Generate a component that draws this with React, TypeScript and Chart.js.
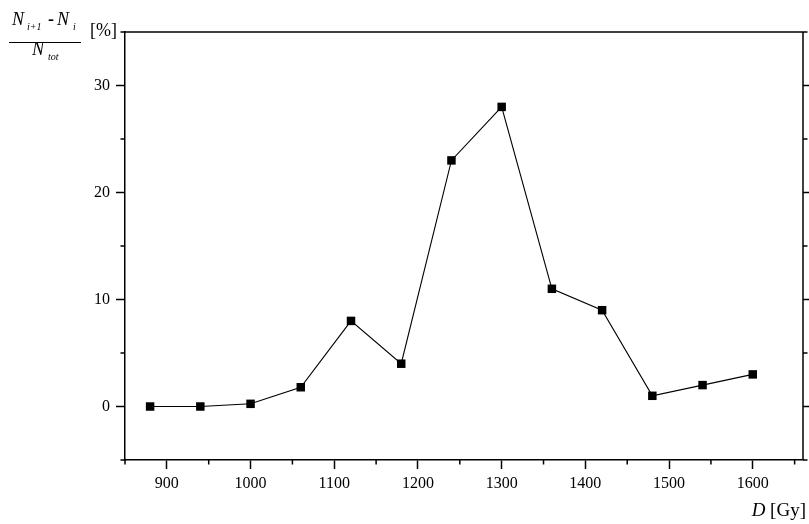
import React, { useEffect, useRef } from 'react';
import { Chart, registerables } from 'chart.js';

Chart.register(...registerables);

const doses = [880, 940, 1000, 1060, 1120, 1180, 1240, 1300, 1360, 1420, 1480, 1540, 1600];
const fractions = [0, 0, 0.25, 1.8, 8.0, 4.0, 23.0, 28.0, 11.0, 9.0, 1.0, 2.0, 3.0];
const xMajorTicks = [900, 1000, 1100, 1200, 1300, 1400, 1500, 1600];
const xMinorTicks = [850, 950, 1050, 1150, 1250, 1350, 1450, 1550, 1650];
const yMajorTicks = [0, 10, 20, 30];
const yMinorTicks = [-5, 5, 15, 25, 35];

const FONT = "'Liberation Serif', 'Times New Roman', serif";

const framePlugin = {
  id: 'frameAndTitles',
  afterDraw(chart: any) {
    const ctx = chart.ctx as CanvasRenderingContext2D;
    const { left, right, top, bottom } = chart.chartArea;
    const xs = chart.scales.x;
    const ys = chart.scales.y;
    ctx.save();
    ctx.strokeStyle = '#000';
    ctx.lineWidth = 1.5;
    // top and right frame
    ctx.beginPath();
    ctx.moveTo(left, top);
    ctx.lineTo(right, top);
    ctx.moveTo(right, top);
    ctx.lineTo(right, bottom);
    ctx.stroke();
    // minor ticks
    ctx.beginPath();
    xMinorTicks.forEach((v) => {
      const px = xs.getPixelForValue(v);
      ctx.moveTo(px, bottom);
      ctx.lineTo(px, bottom + 4.5);
    });
    yMinorTicks.forEach((v) => {
      const py = ys.getPixelForValue(v);
      ctx.moveTo(left - 4.5, py);
      ctx.lineTo(left, py);
      ctx.moveTo(right, py);
      ctx.lineTo(right + 4.5, py);
    });
    yMajorTicks.forEach((v) => {
      const py = ys.getPixelForValue(v);
      ctx.moveTo(right, py);
      ctx.lineTo(right + 9, py);
    });
    ctx.stroke();

    // y-axis title: (N_{i+1} - N_i) / N_tot [%]
    ctx.fillStyle = '#000';
    ctx.textBaseline = 'alphabetic';
    ctx.textAlign = 'left';
    const big = `italic 18px ${FONT}`;
    const small = `italic 10px ${FONT}`;
    ctx.font = big;
    ctx.fillText('N', 12, 25);
    ctx.font = small;
    ctx.fillText('i+1', 27, 30);
    ctx.font = `bold 18px ${FONT}`;
    ctx.fillText('-', 48, 25);
    ctx.font = big;
    ctx.fillText('N', 57, 25);
    ctx.font = small;
    ctx.fillText('i', 73, 30);
    ctx.lineWidth = 1;
    ctx.beginPath();
    ctx.moveTo(9, 42.5);
    ctx.lineTo(81, 42.5);
    ctx.stroke();
    ctx.font = big;
    ctx.fillText('N', 32, 55);
    ctx.font = small;
    ctx.fillText('tot', 48, 60);
    ctx.font = `18px ${FONT}`;
    ctx.fillText('[%]', 90, 36);

    // x-axis title: D [Gy]
    ctx.textAlign = 'right';
    ctx.font = `19px ${FONT}`;
    const rest = ' [Gy]';
    const restW = ctx.measureText(rest).width;
    ctx.fillText(rest, 806, 516);
    ctx.font = `italic 19px ${FONT}`;
    ctx.fillText('D', 806 - restW, 516);
    ctx.restore();
  },
};

export default function App() {
  const canvasRef = useRef<HTMLCanvasElement | null>(null);

  useEffect(() => {
    if (!canvasRef.current) return;
    const tickFont = { family: FONT, size: 16 };
    const chart = new Chart(canvasRef.current, {
      type: 'line',
      data: {
        datasets: [
          {
            data: doses.map((d, i) => ({ x: d, y: fractions[i] })),
            borderColor: '#000',
            borderWidth: 1.1,
            pointStyle: 'rect',
            pointRadius: 6,
            pointBackgroundColor: '#000',
            pointBorderColor: '#000',
            pointBorderWidth: 0,
            tension: 0,
            fill: false,
          },
        ],
      },
      options: {
        animation: false,
        responsive: true,
        maintainAspectRatio: false,
        layout: { padding: { top: 32, right: 3, left: 0, bottom: 0 } },
        plugins: {
          legend: { display: false },
          tooltip: { enabled: false },
          title: { display: false },
        },
        scales: {
          x: {
            type: 'linear',
            min: 850,
            max: 1660,
            afterBuildTicks: (s: any) => {
              s.ticks = xMajorTicks.map((v) => ({ value: v }));
            },
            afterFit: (s: any) => {
              s.height = 64;
            },
            ticks: {
              font: tickFont,
              color: '#000',
              padding: 5,
              maxRotation: 0,
              autoSkip: false,
              callback: (v: any) => String(v),
            },
            grid: {
              display: true,
              drawOnChartArea: false,
              drawTicks: true,
              tickLength: 9,
              tickWidth: 1.5,
              tickColor: '#000',
            },
            border: { display: true, color: '#000', width: 1.5 },
          },
          y: {
            type: 'linear',
            min: -5,
            max: 35,
            afterBuildTicks: (s: any) => {
              s.ticks = yMajorTicks.map((v) => ({ value: v }));
            },
            afterFit: (s: any) => {
              s.width = 125;
            },
            ticks: {
              font: tickFont,
              color: '#000',
              padding: 6,
              autoSkip: false,
              callback: (v: any) => String(v),
            },
            grid: {
              display: true,
              drawOnChartArea: false,
              drawTicks: true,
              tickLength: 9,
              tickWidth: 1.5,
              tickColor: '#000',
            },
            border: { display: true, color: '#000', width: 1.5 },
          },
        },
      },
      plugins: [framePlugin],
    } as any);
    return () => chart.destroy();
  }, []);

  return (
    <div style={{ position: 'fixed', left: 0, top: 0, width: 809, height: 524, background: '#fff' }}>
      <canvas ref={canvasRef} />
    </div>
  );
}
